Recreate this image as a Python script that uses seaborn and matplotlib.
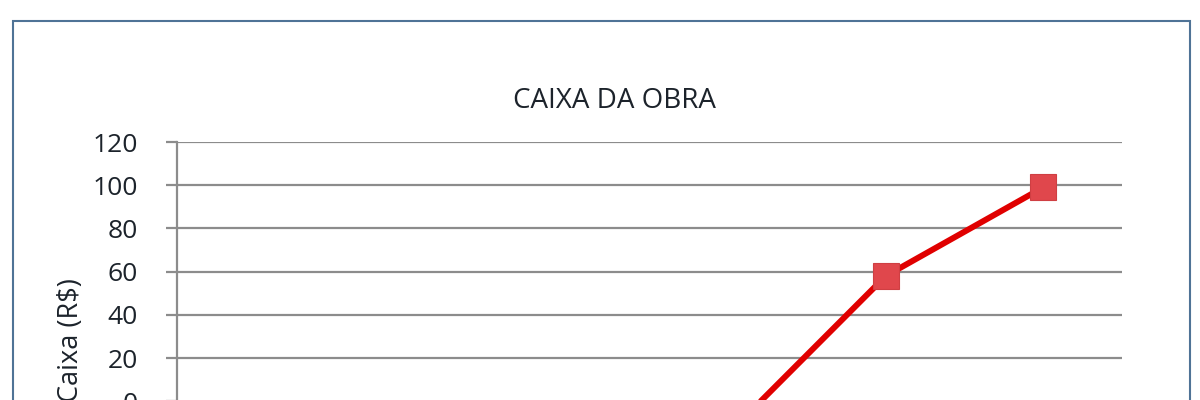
import matplotlib
matplotlib.use("Agg")
import matplotlib.pyplot as plt
from matplotlib.patches import Rectangle
import seaborn as sns
import pandas as pd

# data (the first periods fall below the visible area of the chart)
periodos = ["Mês 1", "Mês 2", "Mês 3", "Mês 4", "Mês 5", "Mês 6"]
caixa = [-25, -40, -50, -15, 58, 99]
y_ticks = [0, 20, 40, 60, 80, 100, 120]

df = pd.DataFrame({"idx": range(len(periodos)), "periodo": periodos, "caixa": caixa})

sns.set_style("white")
plt.rcParams["font.family"] = ["Open Sans", "DejaVu Sans"]

fig = plt.figure(figsize=(12, 4), dpi=100)
# axes run past the bottom edge, like the cropped original
ax = fig.add_axes([177 / 1200, -0.3275, 945 / 1200, 0.9725])

sns.lineplot(data=df, x="idx", y="caixa", ax=ax, color="#e00000", linewidth=4.3,
             marker="s", markersize=18.5, markerfacecolor="#e0474c",
             markeredgecolor="#cf3f43", markeredgewidth=0.8, zorder=3)

ax.set_xlim(-0.5, len(periodos) - 0.5)
ax.set_ylim(-60, 120)
ax.set_yticks(y_ticks)
ax.set_xticks(df["idx"])
ax.set_xticklabels(periodos)
ax.tick_params(axis="x", bottom=False, labelbottom=False)
ax.yaxis.grid(True, color="#8c8c8c", linewidth=1.6)
ax.set_axisbelow(True)
for s in ["top", "right", "bottom"]:
    ax.spines[s].set_visible(False)
ax.spines["left"].set_color("#8c8c8c")
ax.spines["left"].set_linewidth(1.6)
ax.tick_params(axis="y", length=8, width=1.6, color="#8c8c8c", labelsize=19,
               labelcolor="#1c232b", pad=20, left=True)
ax.set_xlabel("")
ax.set_ylabel("Caixa (R$)", fontsize=19.5, color="#1c232b")
ax.yaxis.set_label_coords(-0.097, 0.49)

fig.text(614 / 1200, 1 - 101 / 400, "CAIXA DA OBRA", ha="center", va="center",
         fontsize=20, color="#1c232b")

fig.patches.append(Rectangle((13 / 1200, -0.1), 1177 / 1200, 1.0475,
                             transform=fig.transFigure, fill=False,
                             edgecolor="#4f7396", linewidth=1.5))

fig.savefig("out.png", dpi=100)
